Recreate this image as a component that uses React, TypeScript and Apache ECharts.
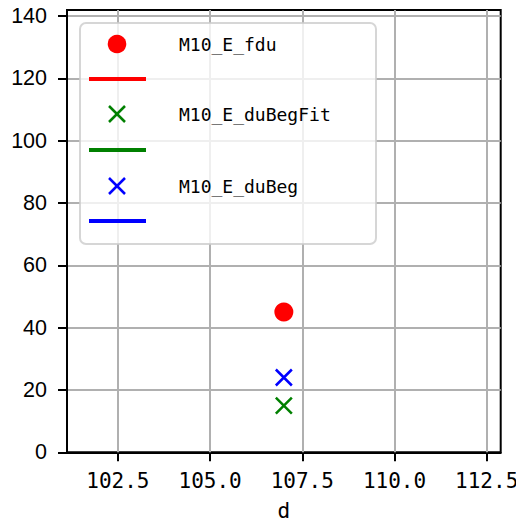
import React, { useEffect, useRef } from "react";
import * as echarts from "echarts";

const seriesNames = ["M10_E_fdu", "M10_E_duBegFit", "M10_E_duBeg"];
const seriesColors = ["#ff0000", "#008000", "#0000ff"];
const xValues = [107.0];
const fduValues = [45];
const duBegFitValues = [15];
const duBegValues = [24];
const xTicks = [102.5, 105.0, 107.5, 110.0, 112.5];
const yTicks = [0, 20, 40, 60, 80, 100, 120, 140];
const xRange = [101.12, 112.88];
const yRange = [0, 141.9];

const FONT = "DejaVu Sans Mono";
const YFONT = "Liberation Sans";
const CROSS = "path://M0,0L10,10M10,0L0,10";

export default function App() {
  const ref = useRef<HTMLDivElement>(null);
  useEffect(() => {
    document.body.style.margin = "0";
    const chart = echarts.init(ref.current!, null, { renderer: "svg" });
    const gridMarks = {
      silent: true,
      symbol: "none",
      label: { show: false },
      lineStyle: { color: "#b0b0b0", width: 2, type: "solid", opacity: 1 },
      data: xTicks.map((v) => ({ xAxis: v })),
    };
    const legendX = 117;
    const rowY = [44, 114, 186];
    const lineY = [79, 150, 221];
    const graphic: any[] = [
      {
        type: "rect",
        shape: { x: 80, y: 23, width: 296, height: 221, r: 6 },
        style: { fill: "rgba(255,255,255,0.8)", stroke: "rgba(204,204,204,0.8)", lineWidth: 2 },
        z: 100,
      },
    ];
    seriesNames.forEach((n, i) => {
      if (i === 0) {
        graphic.push({ type: "circle", shape: { cx: legendX, cy: rowY[i], r: 9.3 }, style: { fill: seriesColors[i] }, z: 101 });
      } else {
        graphic.push({ type: "line", shape: { x1: legendX - 8, y1: rowY[i] - 8, x2: legendX + 8, y2: rowY[i] + 8 }, style: { stroke: seriesColors[i], lineWidth: 2.5 }, z: 101 });
        graphic.push({ type: "line", shape: { x1: legendX + 8, y1: rowY[i] - 8, x2: legendX - 8, y2: rowY[i] + 8 }, style: { stroke: seriesColors[i], lineWidth: 2.5 }, z: 101 });
      }
      graphic.push({ type: "line", shape: { x1: 89, y1: lineY[i], x2: 146, y2: lineY[i] }, style: { stroke: seriesColors[i], lineWidth: 4 }, z: 101 });
      graphic.push({
        type: "text",
        x: 179,
        y: rowY[i],
        style: { text: n, font: `18px '${FONT}'`, fill: "#000", textVerticalAlign: "middle", textAlign: "left" },
        z: 101,
      });
    });
    chart.setOption({
      animation: false,
      backgroundColor: "#ffffff",
      grid: {
        left: 67, right: 15.3, top: 10, bottom: 70.7,
        containLabel: false, outerBoundsMode: "none",
        show: true, borderColor: "#000", borderWidth: 2, backgroundColor: "#fff",
      },
      xAxis: {
        type: "value",
        min: xRange[0],
        max: xRange[1],
        name: "d",
        nameLocation: "middle",
        nameGap: 50,
        nameTextStyle: { fontFamily: FONT, fontSize: 21, lineHeight: 18, color: "#000" },
        axisLine: { show: true, onZero: false, lineStyle: { color: "#000", width: 2 } },
        axisTick: { show: true, length: 9, lineStyle: { color: "#000", width: 2 }, customValues: xTicks },
        axisLabel: { fontFamily: FONT, fontSize: 21, color: "#000", margin: 18, customValues: xTicks, formatter: (v: number) => v.toFixed(1) },
        splitLine: { show: false },
      },
      yAxis: {
        type: "value",
        min: yRange[0],
        max: yRange[1],
        interval: 20,
        axisLine: { show: true, onZero: false, lineStyle: { color: "#000", width: 2 } },
        axisTick: { show: true, length: 9, lineStyle: { color: "#000", width: 2 }, customValues: yTicks },
        axisLabel: { fontFamily: YFONT, fontSize: 21.5, color: "#000", margin: 20, customValues: yTicks },
        splitLine: { show: true, lineStyle: { color: "#b0b0b0", width: 2 } },
      },
      series: [
        {
          name: seriesNames[0],
          type: "scatter",
          symbol: "circle",
          symbolSize: 19,
          itemStyle: { color: seriesColors[0], opacity: 1 },
          data: xValues.map((x, i) => [x, fduValues[i]]),
          markLine: gridMarks,
          z: 5,
        },
        {
          name: seriesNames[1],
          type: "scatter",
          symbol: CROSS,
          symbolSize: 16,
          itemStyle: { color: "rgba(0,0,0,0)", borderColor: seriesColors[1], borderWidth: 2.5, opacity: 1 },
          data: xValues.map((x, i) => [x, duBegFitValues[i]]),
          z: 5,
        },
        {
          name: seriesNames[2],
          type: "scatter",
          symbol: CROSS,
          symbolSize: 16,
          itemStyle: { color: "rgba(0,0,0,0)", borderColor: seriesColors[2], borderWidth: 2.5, opacity: 1 },
          data: xValues.map((x, i) => [x, duBegValues[i]]),
          z: 5,
        },
      ],
      graphic,
    });
    return () => chart.dispose();
  }, []);
  return <div ref={ref} style={{ width: 516, height: 523 }} />;
}
